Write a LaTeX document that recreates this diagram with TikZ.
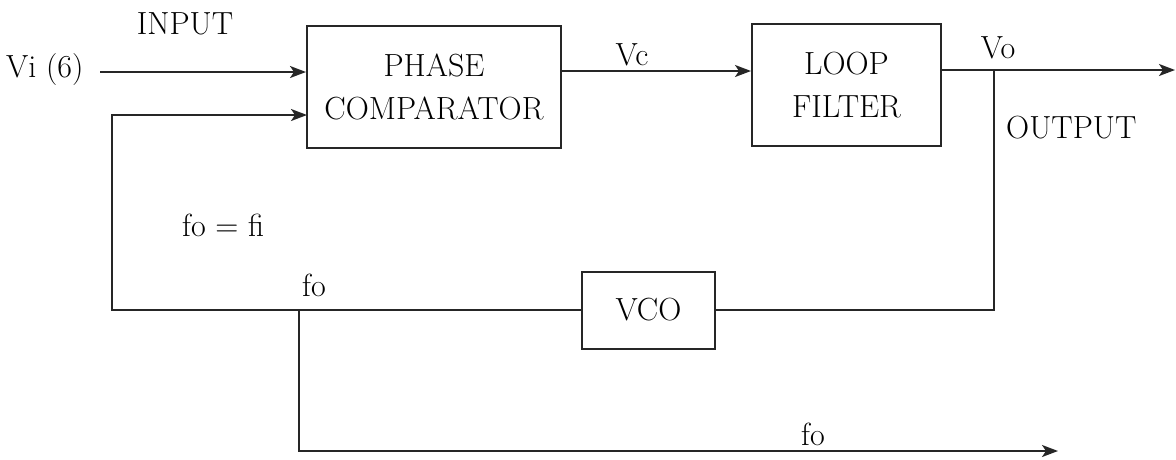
\documentclass[tikz,border=0pt]{standalone}
\usetikzlibrary{arrows.meta}
\begin{document}
\begin{tikzpicture}[x=1pt,y=-1pt,
  every node/.style={font=\fontsize{32}{36}\selectfont},
  blk/.style={draw=black!85,line width=2pt,inner sep=0pt,align=center},
  lbl/.style={inner sep=0pt},
  wire/.style={draw=black!85,line width=2pt},
  arr/.style={wire,-{Stealth[length=16pt,width=12pt,inset=4pt]}}]
\useasboundingbox[fill=white] (0,0) rectangle (1176,459);
% blocks
\node[blk,minimum width=254pt,minimum height=122pt] (pc) at (434,87) {PHASE\\[7pt]COMPARATOR};
\node[blk,minimum width=189pt,minimum height=122pt] (lf) at (846.5,85) {LOOP\\[7pt]FILTER};
\node[blk,minimum width=133pt,minimum height=77pt] (vco) at (648.5,310) {VCO};
% labels
\node[lbl] (tin) at (185,24) {INPUT};
\node[lbl,anchor=west] (tvi) at (6,70) {Vi (6)};
\node[lbl] (tvc) at (632,55) {Vc};
\node[lbl] (tvo) at (998,48) {Vo};
\node[lbl,anchor=west] (tout) at (1006,128) {OUTPUT};
\node[lbl,anchor=west] (tfofi) at (182,225) {fo = fi};
\node[lbl,anchor=west] (tfo1) at (302,285) {fo};
\node[lbl,anchor=west] (tfo2) at (801,434) {fo};
% coordinates
\coordinate (in) at (100,72);
\coordinate (fb) at (307,115);
\coordinate (vc1) at (561,71);
\coordinate (o1) at (941,70);
\coordinate (jo) at (994,70);
\coordinate (oend) at (1175,70);
\coordinate (jl) at (112,310);
\coordinate (jb) at (299,310);
\coordinate (fend) at (1058,451);
% connectors
\draw[arr] (in) -- (in -| pc.west);
\draw[arr] (vc1) -- (vc1 -| lf.west);
\draw[arr] (o1) -- (oend);
\draw[wire] (jo) |- (vco.east);
\draw[arr] (vco.west) -- (jl) |- (fb);
\draw[arr] (jb) |- (fend);
\end{tikzpicture}
\end{document}
